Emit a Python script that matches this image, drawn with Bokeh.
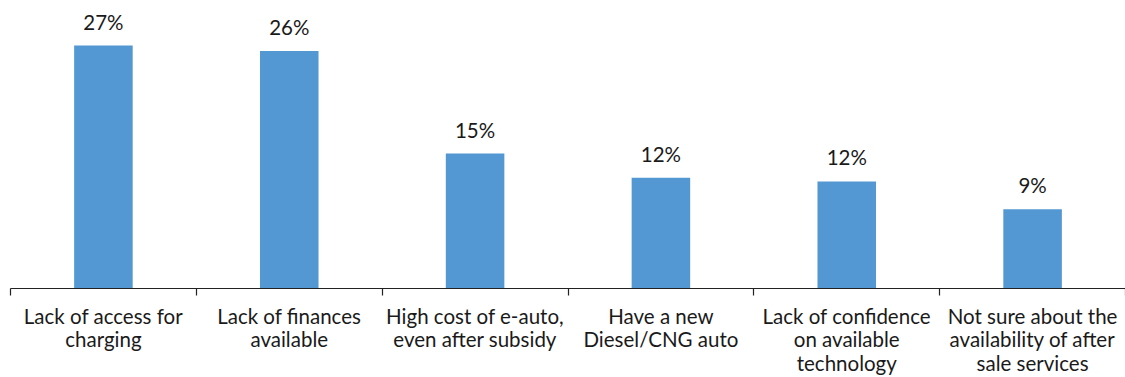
from bokeh.plotting import figure
from bokeh.models import Range1d, FixedTicker, ColumnDataSource
from bokeh.core.properties import value
from bokeh.embed import file_html
from bokeh.resources import INLINE

categories = [
    "Lack of access for\ncharging",
    "Lack of finances\navailable",
    "High cost of e-auto,\neven after subsidy",
    "Have a new\nDiesel/CNG auto",
    "Lack of confidence\non available\ntechnology",
    "Not sure about the\navailability of after\nsale services",
]
values = [27.0, 26.4, 15.0, 12.3, 11.9, 8.8]
labels = [f"{round(v)}%" for v in values]

FONT = "Lato"
BAR = "#5397D3"
TXT = "#1a1a1a"

xs = [i + 0.5 for i in range(len(categories))]
src = ColumnDataSource(dict(x=xs, top=values, label=labels))

p = figure(width=1125, height=377, output_backend="svg", toolbar_location=None,
           x_range=Range1d(0, len(categories)), y_range=Range1d(0, 32.0),
           min_border_left=10, min_border_right=0, min_border_top=0, min_border_bottom=87)
p.outline_line_color = None
p.grid.visible = False
p.yaxis.visible = False

p.vbar(x="x", top="top", width=0.315, bottom=0, source=src, color=BAR, line_color=None)
p.text(x="x", y="top", text="label", source=src, text_align="center",
       text_baseline="alphabetic", y_offset=-24, text_font=value(FONT),
       text_font_size="20.5px", text_color=TXT)

ax = p.xaxis[0]
ax.ticker = FixedTicker(ticks=xs, minor_ticks=list(range(len(categories) + 1)))
ax.major_label_overrides = {x: c for x, c in zip(xs, categories)}
ax.major_tick_out = 0
ax.major_tick_in = 0
ax.minor_tick_out = 7
ax.minor_tick_in = 0
ax.minor_tick_line_color = "#222222"
ax.axis_line_color = "#222222"
ax.axis_line_width = 1.2
ax.minor_tick_line_width = 1.2
ax.major_label_text_font = FONT
ax.major_label_text_font_size = "20.5px"
ax.major_label_text_line_height = 0.98
ax.major_label_text_color = TXT
ax.major_label_standoff = 8

open("out.html", "w").write(file_html(p, INLINE))
